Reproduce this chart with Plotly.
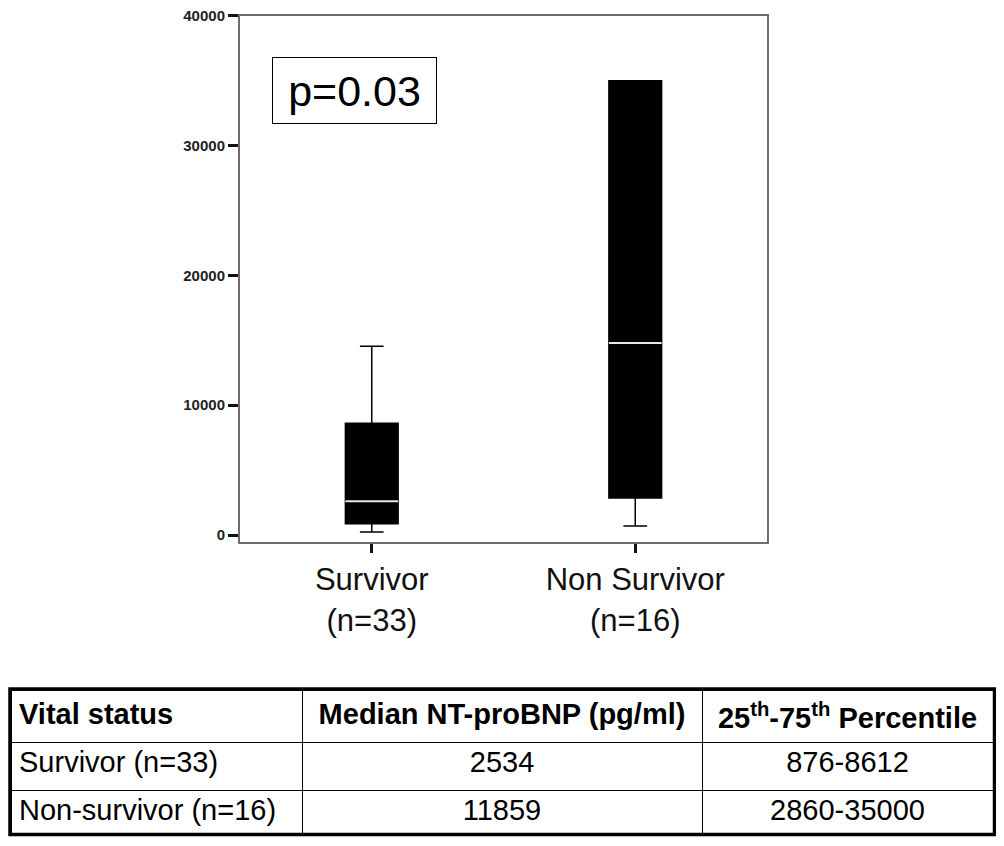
import plotly.graph_objects as go

# ---- data ----
groups = ["Survivor<br>(n=33)", "Non Survivor<br>(n=16)"]
group_pos = [0, 1]
q1_vals = [876, 2860]
median_vals = [2600, 14800]
q3_vals = [8612, 35000]
lower_whisker = [230, 700]
upper_whisker = [14550, 35000]

y_ticks = [0, 10000, 20000, 30000, 40000]

p_text = "p=0.03"

table_header = ["<b>Vital status</b>",
                "<b>Median NT-proBNP (pg/ml)</b>",
                "<b>25<sup>th</sup>-75<sup>th</sup> Percentile</b>"]
table_status = ["Survivor (n=33)", "Non-survivor (n=16)"]
table_median = ["2534", "11859"]
table_iqr = ["876-8612", "2860-35000"]

# ---- page geometry: the page body has an 8px margin ----
PAGE_W, PAGE_H, BODY = 1004, 846, 8
W, H = PAGE_W - 2 * BODY, PAGE_H - 2 * BODY


def X(px):
    return (px - BODY) / W


def Y(py):
    return 1 - (py - BODY) / H


FONT = "Liberation Sans, Arial, Helvetica, sans-serif"
box_w = 0.2

fig = go.Figure()

fig.add_trace(go.Box(
    x=group_pos, q1=q1_vals, median=median_vals, q3=q3_vals,
    lowerfence=lower_whisker, upperfence=upper_whisker,
    width=box_w, whiskerwidth=0.45, boxpoints=False,
    fillcolor="black", line=dict(color="black", width=1.5),
    showlegend=False, hoverinfo="skip",
))

# white median lines
for xp, med in zip(group_pos, median_vals):
    fig.add_trace(go.Scatter(
        x=[xp - box_w / 2, xp + box_w / 2], y=[med, med], mode="lines",
        line=dict(color="#e8e8e8", width=2), showlegend=False, hoverinfo="skip",
    ))

fig.add_trace(go.Table(
    domain=dict(x=[X(11), X(993)], y=[Y(833), Y(690)]),
    columnwidth=[291, 400, 291],
    header=dict(values=table_header, align=["left", "center", "center"],
                height=48, fill_color="white",
                line=dict(color="black", width=1),
                font=dict(family=FONT, size=29, color="black")),
    cells=dict(values=[table_status, table_median, table_iqr],
               align=["left", "center", "center"],
               height=48, fill_color="white",
               line=dict(color="black", width=1),
               font=dict(family=FONT, size=29, color="black")),
))

fig.update_layout(
    width=W, height=H,
    margin=dict(l=0, r=0, t=0, b=0),
    paper_bgcolor="white", plot_bgcolor="white",
    font=dict(family=FONT, color="black"),
    showlegend=False,
    xaxis=dict(
        domain=[X(240), X(767)], range=[-0.5, 1.5], automargin=False,
        tickvals=group_pos, ticktext=groups,
        ticks="outside", ticklen=9, tickwidth=3, tickcolor="#111",
        showline=True, mirror=True, linecolor="#6e6e6e", linewidth=2,
        showgrid=False, zeroline=False,
        tickfont=dict(family=FONT, size=31, color="#111"),
    ),
    yaxis=dict(
        domain=[Y(542), Y(15.7)], range=[-539, 40010], automargin=False,
        tickvals=y_ticks, ticktext=[str(v) for v in y_ticks],
        ticks="outside", ticklen=10, tickwidth=3, tickcolor="#111",
        ticklabeloverflow="allow",
        showline=True, mirror=True, linecolor="#6e6e6e", linewidth=2,
        showgrid=False, zeroline=False,
        tickfont=dict(family=FONT, size=15, color="#222", weight="bold"),
    ),
    annotations=[dict(
        text=p_text, xref="paper", yref="paper",
        x=X(354.5), y=Y(90.5), xanchor="center", yanchor="middle",
        showarrow=False, font=dict(family=FONT, size=43, color="black"),
        bordercolor="black", borderwidth=1, borderpad=0,
        width=163, height=65, bgcolor="white",
    )],
    shapes=[dict(
        type="rect", xref="paper", yref="paper",
        x0=X(10), x1=X(994.5), y0=Y(834.5), y1=Y(689),
        line=dict(color="black", width=3.5), layer="above",
    )],
)

fig.write_html("out.html")
